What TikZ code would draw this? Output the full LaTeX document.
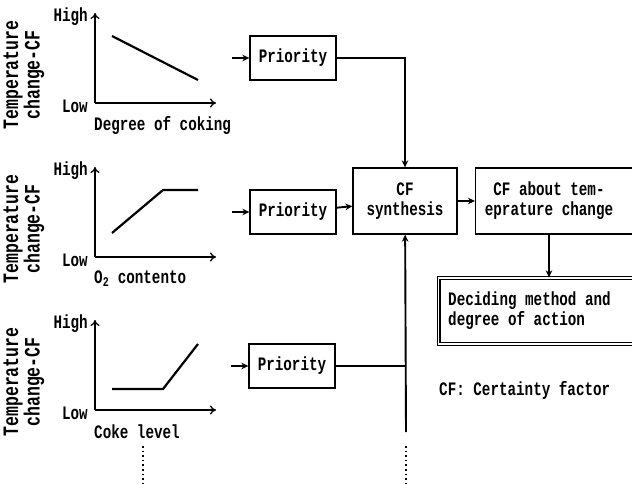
\documentclass[tikz,border=0pt]{standalone}
\usepackage{fontspec}
\setmainfont{Liberation Mono}[FakeStretch=0.75]
\usetikzlibrary{arrows.meta,positioning}

\tikzset{
	txt/.style={font=\fontsize{19}{20}\selectfont\bfseries, inner sep=0pt},
	axis/.style={line width=1.3pt, -{To[length=6pt,width=9pt]}},
	curve/.style={line width=2.2pt},
	box/.style={draw, line width=1.3pt, rectangle, txt, align=center},
	conn/.style={line width=1.9pt, -{Stealth[length=7pt,width=6.5pt]}},
	wire/.style={line width=1.9pt},
	dots/.style={line width=2pt, dash pattern=on 1.6pt off 3pt},
}

\begin{document}
\begin{tikzpicture}[x=1pt,y=-1pt]
		\useasboundingbox (0,0) rectangle (632,484);
		% the three CF curves
		\foreach \dy/\xlab [count=\i] in {0/Degree of coking, 154/O\textsubscript{2} contento, 307/Coke level}{
			\coordinate (o\i) at (95,103+\dy);
			\draw[axis] (o\i) -- ++(0,-90);
			\draw[axis] (o\i) -- ++(121,0);
			\node[txt, anchor=east] (hi\i) at (88,17+\dy) {High};
			\node[txt, anchor=east] (lo\i) at (88,106+\dy) {Low};
			\node[txt, anchor=west] (xl\i) at (94,125+\dy) {\xlab};
			\node[txt, rotate=90, align=center, font=\fontsize{22}{17}\selectfont\bfseries] (yl\i) at (24,75+\dy) {Temperature\\change-CF};
		}
		\draw[curve] (112,36) -- (198,80);
		\draw[curve] (112,233) -- (163,190) -- (198,190);
		\draw[curve] (112,389) -- (163,389) -- (198,344);
		\draw[dots] (143,446) -- (143,484);

		\node[box, minimum width=86, minimum height=44] (pri1) at (293,58) {Priority};
		\node[box, minimum width=86, minimum height=44] (pri2) at (293,212) {Priority};
		\node[box, minimum width=86, minimum height=44] (pri3) at (292,366) {Priority};
		\node[box, minimum width=104, minimum height=66] (synth) at (405,201) {CF\\synthesis};
		\node[box, minimum width=170, minimum height=66, anchor=west] (cfabout) at (475,201) {};
		\node[txt, align=center] (cfaboutTxt) at (549,201) {CF about tem-\\eprature change};
		\node[box, double, double distance=1.6pt, minimum width=200, minimum height=66, anchor=west] (act) at (438,311) {};
		\node[txt, align=left, anchor=west] (actTxt) at (448,311) {Deciding method and\\degree of action};
		\node[txt, anchor=west] (note) at (439,390) {CF: Certainty factor};

		\coordinate (in1) at (232,58);
		\coordinate (in2) at (232,212);
		\coordinate (in3) at (231,366);
		\coordinate (bus) at (406,432);
		\draw[conn] (in1) -- (pri1);
		\draw[conn] (in2) -- (pri2);
		\draw[conn] (in3) -- (pri3);
		\draw[conn] (pri1) -| (synth);
		\draw[conn] (pri2) -- (synth);
		\draw[wire] (pri3) -- (pri3 -| bus);
		\draw[conn] (bus) -- (synth);
		\draw[dots] (406,446) -- (406,484);
		\draw[conn] (synth) -- (cfabout);
		\draw[conn] (cfaboutTxt |- cfabout.south) -- (cfaboutTxt |- act.north);
	\end{tikzpicture}
\end{document}
